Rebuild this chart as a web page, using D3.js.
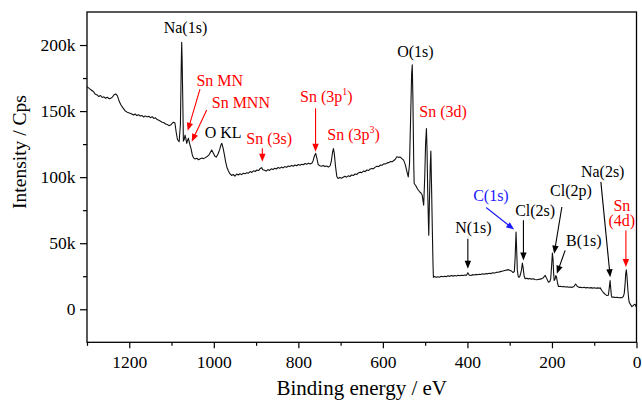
<!DOCTYPE html>
<html>
<head>
<meta charset="utf-8">
<script src="https://cdn.jsdelivr.net/npm/d3@7/dist/d3.min.js"></script>
<style>
  body { margin: 0; background: #fff; }
  text { font-family: "Liberation Serif", "Times New Roman", serif; }
</style>
</head>
<body>
<svg id="chart" width="642" height="402"></svg>
<script>
// XPS survey scan: [binding energy (eV), intensity (k counts/s)]
const scan = [
  [1300,168.5],[1295,167.2],[1290,166.0],[1285,164.8],[1281,163.0],[1276,162.2],[1272,161.0],
  [1268,161.8],[1264,160.3],[1260,160.8],[1256,159.7],[1252,160.5],[1248,159.4],[1244,159.6],
  [1240,160.6],[1236,162.4],[1232,163.0],[1228,161.5],[1224,157.6],[1220,154.8],[1215,152.4],
  [1210,150.3],[1205,149.2],[1200,148.6],[1195,148.0],[1190,147.0],[1186,147.8],[1182,146.6],
  [1178,147.3],[1174,146.2],[1170,146.7],[1166,145.5],[1162,146.4],[1158,145.6],[1154,146.1],
  [1150,145.0],[1146,145.8],[1142,144.4],[1138,144.9],[1134,143.6],[1130,143.0],[1126,142.3],
  [1122,141.6],[1118,141.2],[1114,140.2],[1110,139.8],[1106,139.0],[1102,139.4],[1099,140.6],
  [1095,141.6],[1092,141.0],[1089,134.0],[1086,128.5],[1082,126.8],[1079,140.0],[1077,185.0],
  [1076,202.0],[1075,190.0],[1073,150.0],[1072,127.3],[1070,128.5],[1068,131.9],[1066,129.0],
  [1064,125.6],[1062,128.0],[1060,129.4],[1057,125.0],[1054,121.8],[1051,117.0],[1048,114.6],
  [1044,113.8],[1040,114.3],[1036,113.2],[1032,113.9],[1028,114.5],[1024,114.0],[1020,114.8],
  [1016,115.6],[1012,116.5],[1008,118.8],[1005,120.5],[1001,118.0],[997,115.6],[994,115.2],
  [990,117.5],[986,121.0],[983,124.5],[981,125.6],[978,122.0],[975,117.0],[972,111.5],
  [969,107.5],[966,105.0],[962,102.6],[958,101.3],[954,102.0],[950,100.8],[946,102.4],
  [942,101.6],[938,102.6],[934,101.9],[930,103.0],[926,102.5],[922,103.4],[918,103.0],
  [914,104.2],[910,103.6],[906,104.8],[902,104.3],[898,105.4],[894,105.0],[890,106.6],
  [887,107.2],[884,105.6],[880,105.2],[876,104.6],[872,105.7],[868,105.1],[864,106.3],
  [860,105.7],[856,106.7],[852,106.2],[848,107.3],[844,106.8],[840,107.6],[836,107.0],
  [832,108.0],[828,107.4],[824,108.4],[820,108.0],[816,108.9],[812,108.3],[808,109.2],
  [804,108.6],[800,109.6],[796,109.0],[792,109.8],[788,109.4],[784,110.3],[780,109.8],
  [776,110.6],[772,110.0],[768,110.6],[765,112.5],[762,116.0],[759,118.0],[756,114.0],
  [753,109.5],[749,108.6],[745,108.2],[741,108.8],[737,108.0],[733,108.4],[729,107.6],
  [725,108.5],[722,112.0],[719,119.0],[717,121.6],[715,118.0],[712,108.0],[709,100.5],
  [706,99.0],[702,99.8],[698,99.2],[694,99.9],[690,100.6],[686,100.0],[682,101.0],
  [678,100.5],[674,101.6],[670,101.2],[666,102.4],[662,102.0],[658,103.2],[654,103.8],
  [650,103.4],[646,104.6],[642,104.2],[638,105.4],[634,105.0],[630,106.2],[626,106.6],
  [622,106.4],[618,107.6],[614,108.3],[610,108.0],[606,109.2],[602,109.0],[598,110.1],
  [594,110.0],[590,110.8],[586,111.0],[582,111.8],[578,111.6],[575,112.4],[571,113.4],
  [567,115.4],[563,115.0],[559,115.2],[555,114.0],[551,112.9],[547,109.5],[543,104.0],
  [540,100.2],[537,110.0],[534,150.0],[532,178.0],[530.5,185.0],[529,160.0],[527,110.0],
  [526,95.2],[522,93.5],[518,91.0],[514,89.3],[510,88.0],[507,86.5],[505,82.0],[503.5,78.7],
  [501,100.0],[499,125.0],[497,136.8],[495.5,120.0],[494,90.0],[492,62.0],[491.4,56.0],
  [490,80.0],[488,108.0],[486.5,119.7],[485,95.0],[483,60.0],[481.5,35.0],[480.5,24.3],
  [478,24.8],[474,24.2],[470,24.6],[466,24.3],[462,24.9],[458,24.6],[454,25.0],[450,24.7],
  [446,25.3],[442,24.9],[438,25.5],[434,25.1],[430,25.5],[426,25.2],[422,25.7],[418,25.4],
  [414,25.8],[410,25.5],[406,25.9],[402,25.7],[399,27.6],[396,26.0],[392,25.6],[388,26.2],
  [384,25.9],[380,26.4],[376,26.1],[372,26.5],[368,26.3],[364,26.8],[360,26.5],[356,27.0],
  [352,26.8],[348,27.3],[344,27.0],[340,27.6],[336,27.4],[332,27.9],[328,28.0],[324,28.3],
  [320,28.7],[316,29.0],[312,29.4],[308,29.6],[304,30.0],[300,29.6],[296,29.0],[292,27.8],
  [289,28.5],[287,40.0],[285,58.5],[283.5,45.0],[282,30.0],[280,25.0],[278,24.1],[276,25.0],
  [274,27.2],[272,30.0],[270,34.9],[268,31.0],[266,25.5],[263.5,23.1],[260,23.5],[256,23.0],
  [252,23.3],[248,22.8],[244,23.1],[240,22.5],[236,22.3],[232,22.6],[228,22.8],[224,23.2],
  [220.8,23.7],[216,25.6],[212,23.0],[208.3,20.5],[205,21.0],[203,23.0],[201,32.0],[199,42.5],
  [197.5,38.0],[196,27.0],[194.8,21.8],[192.5,23.0],[190.8,25.6],[189,24.0],[186.5,19.5],
  [184.6,17.2],[180,17.4],[176,17.0],[172,17.3],[168,16.8],[164,17.1],[160,16.7],[156.9,16.9],
  [152,16.6],[148,17.2],[144,19.1],[140,17.2],[136,16.6],[132,16.7],[128,16.3],[124,16.6],
  [120,16.2],[116,16.5],[112,16.1],[108,16.4],[104,16.0],[100,16.3],[96,15.9],[92,16.2],
  [88,15.9],[85.9,16.2],[82,14.2],[78,12.5],[74,11.3],[70,10.4],[66.5,10.6],[64.5,16.0],
  [62.5,21.8],[61,16.0],[59.5,10.5],[58,9.1],[54,9.2],[50,8.9],[46,9.1],[42,8.7],[38,8.9],
  [34.6,8.7],[31,9.8],[29,12.0],[27,19.0],[25.5,27.0],[24,29.9],[22.5,25.0],[20.5,15.0],
  [18.5,8.0],[17.3,5.3],[14,3.5],[10.9,2.0],[8,2.6],[5,3.8],[3,3.6],[1.5,2.4],[0,1.3]
];

const xTicks = [1200, 1000, 800, 600, 400, 200, 0];
const xMinorTicks = [1300, 1100, 900, 700, 500, 300, 100];
const yTicks = [0, 50, 100, 150, 200];
const yMinorTicks = [25, 75, 125, 175];

// Peak assignments: label anchor and optional arrow, in (eV, kCps)
const peakLabels = [
  { lines: ["Na(1s)"],  color: "black", at: [1067, 208.9] },
  { lines: ["Sn MN"],   color: "red",   at: [986, 169.1],  arrow: [1032.7, 166.6, 1061.8, 135.1] },
  { lines: ["Sn MNN"],  color: "red",   at: [936, 152.7],  arrow: [1016.8, 150.9, 1052.3, 126.8] },
  { lines: ["O KL"],    color: "black", at: [977.8, 129.6] },
  { lines: ["Sn (3s)"], color: "red",   at: [868.9, 125.4], arrow: [885.2, 121.8, 885.2, 111.6] },
  { lines: ["Sn (3p"],  sup: "1", color: "red", at: [796, 156.9], start: true, arrow: [759.3, 152.1, 759.3, 119.2] },
  { lines: ["Sn (3p"],  sup: "3", color: "red", at: [731.4, 128.1], start: true },
  { lines: ["O(1s)"],   color: "black", at: [523.1, 191.1] },
  { lines: ["Sn (3d)"], color: "red",   at: [457.5, 145.2] },
  { lines: ["N(1s)"],   color: "black", at: [385.8, 57.8],  arrow: [399, 53.4, 399, 30.7] },
  { lines: ["C(1s)"],   color: "blue",  at: [344.4, 81.8],  arrow: [355.7, 77.0, 289.5, 60.3] },
  { lines: ["Cl(2s)"],  color: "black", at: [239.8, 70.4],  arrow: [267.5, 67.3, 267.5, 37.0] },
  { lines: ["Cl(2p)"],  color: "black", at: [155, 85.9],    arrow: [176.6, 77.4, 194.8, 42.1] },
  { lines: ["B(1s)"],   color: "black", at: [124.5, 47.6],  arrow: [168.8, 44.6, 188.4, 26.9] },
  { lines: ["Na(2s)"],  color: "black", at: [80, 100.0],    arrow: [84.3, 96.4, 62.2, 24.3] },
  { lines: ["Sn", "(4d)"], color: "red", at: [34.6, 74.6],  arrow: [25.1, 59.7, 25.1, 31.9] }
];

const palette = { black: "#000", red: "#ff0000", blue: "#1a1aff" };

const svg = d3.select("#chart");
const plot = { left: 87, right: 636.5, top: 12, bottom: 342.3 };

const x = d3.scaleLinear().domain([1300, 0]).range([plot.left, plot.right]);
const y = d3.scaleLinear().domain([-25, 225]).range([plot.bottom, plot.top]);

// spectrum trace
svg.append("path")
  .datum(scan)
  .attr("fill", "none")
  .attr("stroke", "#111")
  .attr("stroke-width", 1.1)
  .attr("stroke-linejoin", "round")
  .attr("d", d3.line().x(d => x(d[0])).y(d => y(d[1])));

// frame
svg.append("rect")
  .attr("x", plot.left).attr("y", plot.top)
  .attr("width", plot.right - plot.left).attr("height", plot.bottom - plot.top)
  .attr("fill", "none").attr("stroke", "#000").attr("stroke-width", 1.3);

// x axis
svg.append("g").attr("transform", `translate(0,${plot.bottom})`)
  .call(d3.axisBottom(x).tickValues(xTicks).tickSize(6).tickPadding(7.5).tickFormat(d3.format("d")));
svg.append("g").attr("transform", `translate(0,${plot.bottom})`)
  .call(d3.axisBottom(x).tickValues(xMinorTicks).tickSize(3.5).tickFormat(""));

// y axis
svg.append("g").attr("transform", `translate(${plot.left},0)`)
  .call(d3.axisLeft(y).tickValues(yTicks).tickSize(7).tickPadding(4.5).tickFormat(d => d === 0 ? "0" : d + "k"));
svg.append("g").attr("transform", `translate(${plot.left},0)`)
  .call(d3.axisLeft(y).tickValues(yMinorTicks).tickSize(4).tickFormat(""));

svg.selectAll(".domain").remove();
svg.selectAll(".tick line").attr("stroke", "#000").attr("stroke-width", 1.2);
svg.selectAll(".tick text")
  .attr("font-family", "'Liberation Serif', 'Times New Roman', serif")
  .attr("font-size", 17.5).attr("fill", "#000");

// axis titles
svg.append("text")
  .attr("x", (plot.left + plot.right) / 2).attr("y", 395)
  .attr("text-anchor", "middle").attr("font-size", 21)
  .text("Binding energy / eV");
svg.append("text")
  .attr("transform", "translate(26,152) rotate(-90)")
  .attr("text-anchor", "middle").attr("font-size", 19.5)
  .text("Intensity / Cps");

// arrows
const arrowG = svg.append("g");
peakLabels.filter(d => d.arrow).forEach(d => {
  const [e1, i1, e2, i2] = d.arrow;
  const x1 = x(e1), y1 = y(i1), x2 = x(e2), y2 = y(i2);
  const len = Math.hypot(x2 - x1, y2 - y1);
  const ux = (x2 - x1) / len, uy = (y2 - y1) / len;
  const head = 8, half = 3.2;
  const bx = x2 - ux * head, by = y2 - uy * head;
  const c = palette[d.color];
  arrowG.append("line")
    .attr("x1", x1).attr("y1", y1).attr("x2", bx + ux).attr("y2", by + uy)
    .attr("stroke", c).attr("stroke-width", 1.1);
  arrowG.append("path")
    .attr("d", `M${x2},${y2}L${bx - uy * half},${by + ux * half}L${bx + uy * half},${by - ux * half}Z`)
    .attr("fill", c);
});

// peak labels
peakLabels.forEach(d => {
  const t = svg.append("text")
    .attr("x", x(d.at[0])).attr("y", y(d.at[1]))
    .attr("text-anchor", d.start ? "start" : "middle")
    .attr("font-size", 16)
    .attr("fill", palette[d.color]);
  d.lines.forEach((line, i) => {
    t.append("tspan").attr("x", x(d.at[0])).attr("dy", i === 0 ? 0 : 15.5).text(line);
  });
  if (d.sup) {
    t.append("tspan").attr("dy", -7).attr("font-size", 10).text(d.sup);
    t.append("tspan").attr("dy", 7).text(")");
  }
});
</script>
</body>
</html>
